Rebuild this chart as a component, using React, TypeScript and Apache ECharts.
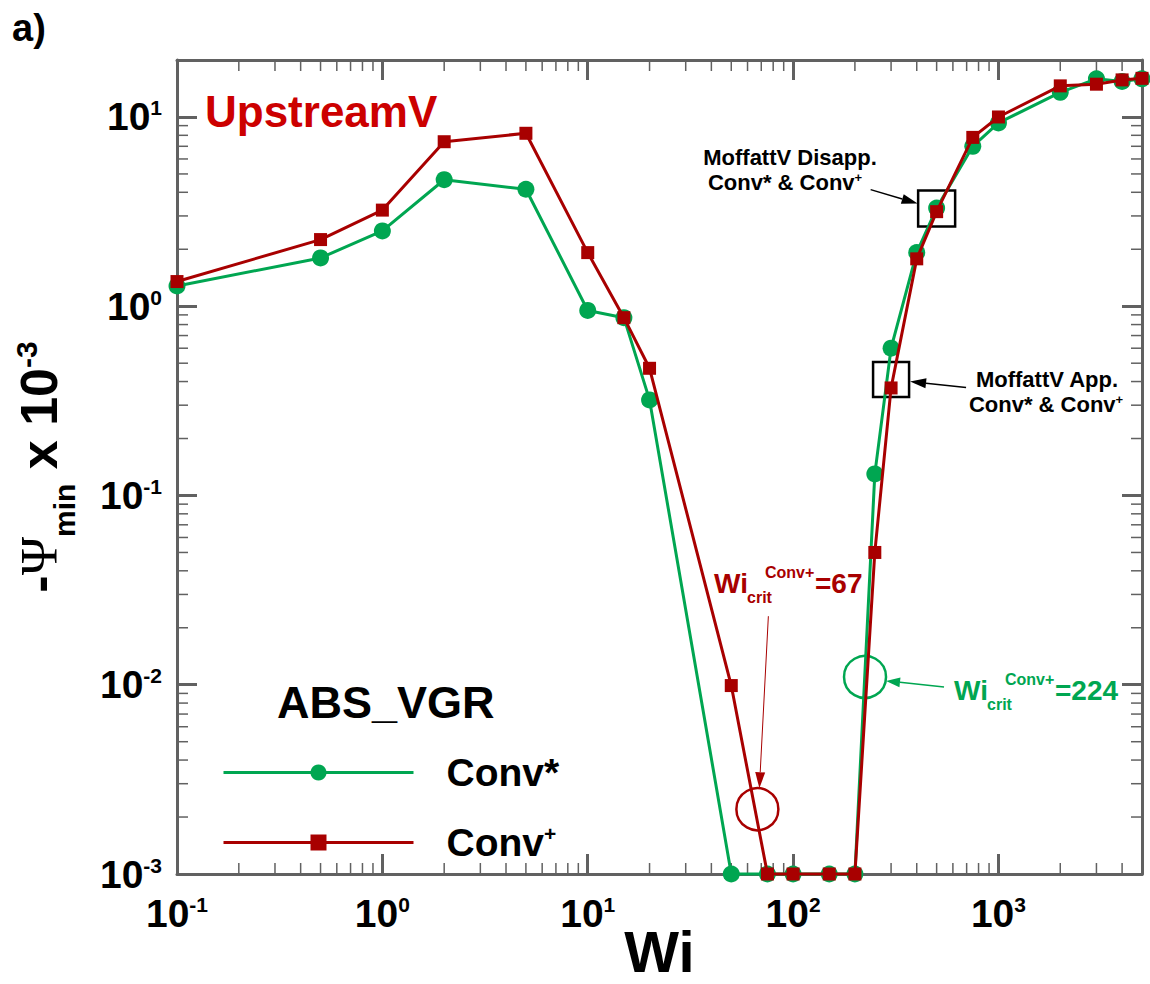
import React, { useEffect, useRef } from 'react';
import * as echarts from 'echarts';

// ---------------- data ----------------
const wiValues = [0.1, 0.5, 1, 2, 5, 10, 15, 20, 50, 75, 100, 150, 200, 250, 300, 400, 500, 750, 1000, 2000, 3000, 4000, 5000];
const psiConvStar = [1.28, 1.8, 2.5, 4.66, 4.15, 0.95, 0.87, 0.32, 0.001, 0.001, 0.001, 0.001, 0.001, 0.13, 0.6, 1.92, 3.3, 7.0, 9.3, 13.5, 15.9, 15.4, 15.9];
const psiConvPlus = [1.35, 2.25, 3.22, 7.4, 8.2, 1.92, 0.87, 0.47, 0.0099, 0.001, 0.001, 0.001, 0.001, 0.05, 0.37, 1.78, 3.16, 7.8, 10.0, 14.6, 14.9, 15.7, 16.0];
const seriesNames = ['Conv*', 'Conv+'];
const xRange = [0.1, 5000];
const yRange = [0.001, 20];
const minorMantissas = [2, 3, 4, 5, 6, 7, 8, 9];
const xDecades = [-1, 0, 1, 2, 3];
const yDecades = [-3, -2, -1, 0, 1];
const critLow = [67, 0.0022];
const critHigh = [224, 0.011];
const moffattAppear = [300, 0.41];
const moffattDisappear = [500, 3.28];

// ---------------- style ----------------
const FF = '"Liberation Sans", Arial, Helvetica, sans-serif';
const GREEN = '#00A651';
const RED = '#A80000';
const RED_TITLE = '#CC0000';
const GRAY = '#616161';

const isDecade = (v: number) => Math.abs(Math.log10(v) - Math.round(Math.log10(v))) < 1e-6;
const tickLabel = (v: number) => (isDecade(v) ? `{b|10}{s|${Math.round(Math.log10(v))}}` : '');
const labelRich = {
  b: { fontSize: 39, fontWeight: 'bold', fontFamily: FF, color: '#000' },
  s: { fontSize: 21, fontWeight: 'bold', fontFamily: FF, color: '#000', verticalAlign: 'top' },
};

const seg = (x1: number, y1: number, x2: number, y2: number, stroke: string, lineWidth: number) => ({
  type: 'line', silent: true, shape: { x1, y1, x2, y2 }, style: { stroke, lineWidth },
});

const txt = (x: number, y: number, text: string, size: number, fill: string, align = 'left', rich?: any) => ({
  type: 'text', silent: true, x, y,
  style: { text, fill, fontSize: size, fontWeight: 'bold', fontFamily: FF, textAlign: align, textVerticalAlign: 'middle', rich },
});

const arrow = (x1: number, y1: number, x2: number, y2: number, color: string, lw: number, hl: number, hw: number) => {
  const dx = x2 - x1, dy = y2 - y1, L = Math.hypot(dx, dy);
  const ux = dx / L, uy = dy / L;
  const bx = x2 - ux * hl, by = y2 - uy * hl;
  const nx = -uy, ny = ux;
  return [
    seg(x1, y1, bx, by, color, lw),
    { type: 'polygon', silent: true, shape: { points: [[x2, y2], [bx + nx * hw, by + ny * hw], [bx - nx * hw, by - ny * hw]] }, style: { fill: color } },
  ];
};

const critLabel = (x: number, y: number, value: string, color: string) => [
  txt(x, y, 'Wi', 28, color),
  txt(x + 33, y + 14, 'crit', 16, color),
  txt(x + 51, y - 11, 'Conv+', 16, color),
  txt(x + 101, y, '=' + value, 28, color),
];

const axisCommon = (min: number, max: number, split: number) => ({
  type: 'log', logBase: 10, min, max, splitNumber: split,
  axisLine: { show: true, lineStyle: { color: GRAY, width: 3 } },
  axisTick: { show: true, inside: true, length: 20, lineStyle: { color: GRAY, width: 3 } },
  splitLine: { show: false },
  minorTick: { show: false },
  minorSplitLine: { show: false },
});

export default function App() {
  const ref = useRef<HTMLDivElement>(null);
  useEffect(() => {
    document.body.style.margin = '0';
    const chart = echarts.init(ref.current!, null, { renderer: 'svg' });
    const option: any = {
      animation: false,
      backgroundColor: '#fff',
      grid: { left: 177, right: 8, top: 60, bottom: 110, containLabel: false, outerBoundsMode: 'none' },
      xAxis: [
        {
          ...axisCommon(xRange[0], xRange[1], 5), position: 'bottom',
          axisLabel: { formatter: tickLabel, margin: 20, rich: labelRich },
          name: 'Wi', nameLocation: 'middle', nameGap: 48, nameMoveOverlap: false,
          nameTextStyle: { fontSize: 58, fontWeight: 'bold', fontFamily: FF, color: '#000' },
        },
        { ...axisCommon(xRange[0], xRange[1], 5), position: 'top', axisLabel: { show: false } },
      ],
      yAxis: [
        {
          ...axisCommon(yRange[0], yRange[1], 4), position: 'left',
          axisLabel: { formatter: tickLabel, margin: 15, rich: labelRich },
          name: '{a|-}{p|Ψ}{sub|min}{a| x 10}{sup|-3}', nameLocation: 'middle', nameGap: 98, nameRotate: 90,
          nameMoveOverlap: false,
          nameTextStyle: {
            rich: {
              a: { fontSize: 52, fontWeight: 'bold', fontFamily: FF, color: '#000' },
              p: { fontSize: 52, fontFamily: '"Liberation Serif", "DejaVu Serif", serif', color: '#000' },
              sub: { fontSize: 30, fontWeight: 'bold', fontFamily: FF, color: '#000', verticalAlign: 'bottom', padding: [50, 0, 0, 0] },
              sup: { fontSize: 30, fontWeight: 'bold', fontFamily: FF, color: '#000', verticalAlign: 'top', padding: [12, 0, 0, 0] },
            },
          },
        },
        { ...axisCommon(yRange[0], yRange[1], 4), position: 'right', axisLabel: { show: false } },
      ],
      legend: {
        data: seriesNames, orient: 'vertical', left: 222, top: 753, padding: 0,
        itemWidth: 190, itemHeight: 20, itemGap: 31, selectedMode: false,
        lineStyle: { width: 3 },
        formatter: (n: string) => (n === 'Conv+' ? '{a|Conv}{s|+}' : '{a|Conv*}'),
        textStyle: {
          rich: {
            a: { fontSize: 39, fontWeight: 'bold', fontFamily: FF, color: '#000', padding: [0, 0, 0, 28] },
            s: { fontSize: 21, fontWeight: 'bold', fontFamily: FF, color: '#000', verticalAlign: 'top' },
          },
        },
      },
      series: [
        {
          name: seriesNames[0], type: 'line', clip: false, z: 3,
          data: wiValues.map((w, i) => [w, psiConvStar[i]]),
          symbol: 'circle', symbolSize: 17,
          lineStyle: { color: GREEN, width: 3 }, itemStyle: { color: GREEN },
        },
        {
          name: seriesNames[1], type: 'line', clip: false, z: 4,
          data: wiValues.map((w, i) => [w, psiConvPlus[i]]),
          symbol: 'rect', symbolSize: 13,
          lineStyle: { color: RED, width: 3 }, itemStyle: { color: RED },
        },
      ],
    };
    chart.setOption(option);

    const p = (x: number, y: number) => chart.convertToPixel({ seriesIndex: 0 }, [x, y]) as number[];
    const [xl, yb] = p(xRange[0], yRange[0]);
    const [xr, yt] = p(xRange[1], yRange[1]);
    const els: any[] = [];
    xDecades.forEach((e) => minorMantissas.forEach((m) => {
      const v = m * Math.pow(10, e);
      if (v >= xRange[1]) return;
      const x = p(v, 1)[0];
      els.push(seg(x, yb, x, yb - 11, GRAY, 1.5), seg(x, yt, x, yt + 11, GRAY, 1.5));
    }));
    yDecades.forEach((e) => minorMantissas.forEach((m) => {
      const v = m * Math.pow(10, e);
      if (v >= yRange[1]) return;
      const y = p(1, v)[1];
      els.push(seg(xl, y, xl + 11, y, GRAY, 1.5), seg(xr, y, xr - 11, y, GRAY, 1.5));
    }));

    // titles
    els.push(txt(12, 28, 'a)', 38, '#000'));
    els.push(txt(205, 111, 'UpstreamV', 44, RED_TITLE));
    els.push(txt(277, 702, 'ABS_VGR', 45, '#000'));

    // critical Wi circles and labels
    const [c1x, c1y] = p(critLow[0], critLow[1]);
    els.push({ type: 'circle', silent: true, shape: { cx: c1x, cy: c1y, r: 21 }, style: { fill: 'none', stroke: RED, lineWidth: 2.5 } });
    els.push(...arrow(c1x + 11, c1y - 193, c1x + 2, c1y - 21, RED, 1, 16, 5));
    els.push(...critLabel(714, 583, '67', RED));

    const [c2x, c2y] = p(critHigh[0], critHigh[1]);
    els.push({ type: 'circle', silent: true, shape: { cx: c2x, cy: c2y, r: 21 }, style: { fill: 'none', stroke: GREEN, lineWidth: 2.5 } });
    els.push(...arrow(c2x + 79, c2y + 10, c2x + 21, c2y + 4, GREEN, 1.5, 14, 5));
    els.push(...critLabel(954, 690, '224', GREEN));

    // Moffatt boxes
    const [b1x, b1y] = p(moffattDisappear[0], moffattDisappear[1]);
    els.push({ type: 'rect', silent: true, shape: { x: b1x - 18.5, y: b1y - 18, width: 37, height: 36 }, style: { fill: 'none', stroke: '#000', lineWidth: 2.5 } });
    els.push(...arrow(b1x - 66, b1y - 19, b1x - 19, b1y - 5, '#000', 1.5, 16, 5));
    const [b2x, b2y] = p(moffattAppear[0], moffattAppear[1]);
    els.push({ type: 'rect', silent: true, shape: { x: b2x - 18, y: b2y - 17.5, width: 36, height: 35 }, style: { fill: 'none', stroke: '#000', lineWidth: 2.5 } });
    els.push(...arrow(b2x + 75, b2y + 8, b2x + 19, b2y + 2, '#000', 1.5, 16, 5));

    const annRich = {
      m: { fontSize: 22, fontWeight: 'bold', fontFamily: FF, color: '#000' },
      s: { fontSize: 13, fontWeight: 'bold', fontFamily: FF, color: '#000', verticalAlign: 'top' },
    };
    els.push(txt(790, 157, 'MoffattV Disapp.', 22, '#000', 'center'));
    els.push(txt(785, 182, '{m|Conv* & Conv}{s|+}', 22, '#000', 'center', annRich));
    els.push(txt(1047, 379, 'MoffattV App.', 22, '#000', 'center'));
    els.push(txt(1046, 404, '{m|Conv* & Conv}{s|+}', 22, '#000', 'center', annRich));

    chart.setOption({ graphic: { elements: els } });
    return () => chart.dispose();
  }, []);
  return <div ref={ref} style={{ width: 1150, height: 984 }} />;
}
